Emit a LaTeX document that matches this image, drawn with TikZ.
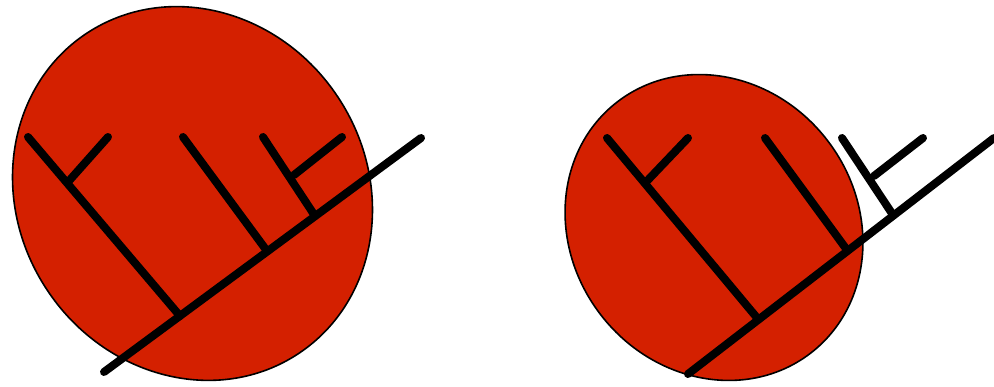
\documentclass[tikz,border=0pt]{standalone}
\begin{document}
\begin{tikzpicture}[x=1pt,y=-1pt,
  cell/.style={draw=black,line width=1.6pt,fill=cellred},
  branch/.style={line width=8pt,line cap=round,draw=black}]
\definecolor{cellred}{RGB}{212,32,0}
\useasboundingbox (0,0) rectangle (994,387);
% left cell
\coordinate (Lc) at (192.5,193.5);
\path[cell,rotate around={-56.6:(Lc)}] (Lc) ellipse [x radius=192,y radius=174.5];
% left tree
\coordinate (La) at (104,372);
\coordinate (Lb) at (421,138);
\coordinate (L1) at (180,316);
\coordinate (L1t) at (28,137);
\coordinate (L1s) at (68,182);
\coordinate (L1u) at (108,137);
\coordinate (L2) at (267,251);
\coordinate (L2t) at (183,137);
\coordinate (L3) at (315,216);
\coordinate (L3t) at (263,137);
\coordinate (L3s) at (294,175);
\coordinate (L3u) at (342,137);
\draw[branch] (La) -- (Lb);
\draw[branch] (L1) -- (L1t);
\draw[branch] (L1s) -- (L1u);
\draw[branch] (L2) -- (L2t);
\draw[branch] (L3) -- (L3t);
\draw[branch] (L3s) -- (L3u);
% right cell
\coordinate (Rc) at (714,227.5);
\path[cell,rotate around={-52.5:(Rc)}] (Rc) ellipse [x radius=158.5,y radius=143];
% right tree
\coordinate (Ra) at (688,374);
\coordinate (Rb) at (994,138);
\coordinate (R1) at (758,319);
\coordinate (R1t) at (607,138);
\coordinate (R1s) at (647,181);
\coordinate (R1u) at (688,138);
\coordinate (R2) at (847,250);
\coordinate (R2t) at (765,138);
\coordinate (R3) at (893,215);
\coordinate (R3t) at (842,138);
\coordinate (R3s) at (874,176);
\coordinate (R3u) at (923,138);
\draw[branch] (Ra) -- (Rb);
\draw[branch] (R1) -- (R1t);
\draw[branch] (R1s) -- (R1u);
\draw[branch] (R2) -- (R2t);
\draw[branch] (R3) -- (R3t);
\draw[branch] (R3s) -- (R3u);
\end{tikzpicture}
\end{document}
